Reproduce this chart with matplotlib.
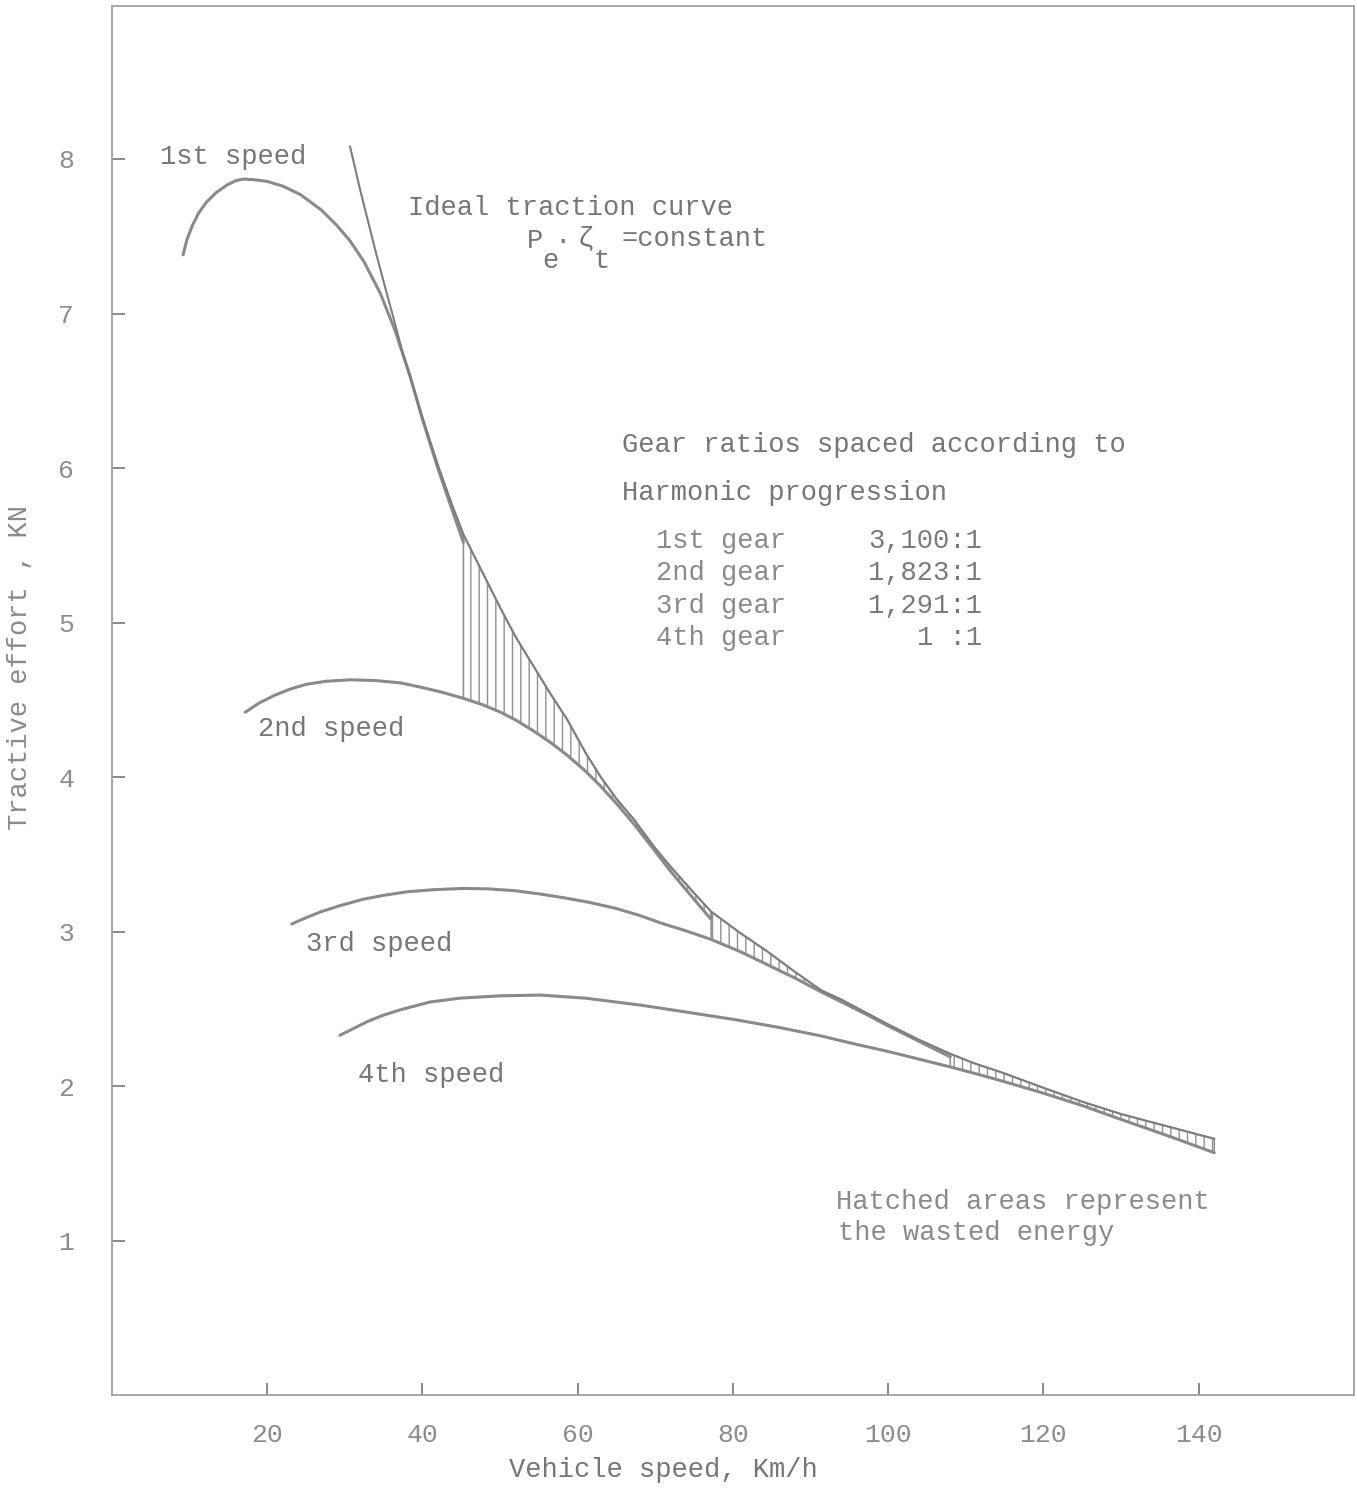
import matplotlib
matplotlib.use("Agg")
import matplotlib.pyplot as plt

# ideal traction curve (Pe * eta_t = constant)
ideal_v = [30.7, 32.0, 33.0, 34.0, 35.0, 36.3, 37.4, 38.5, 40.0, 42.0, 43.7,
           45.3, 47.5, 50.1, 52.0, 54.3, 56.5, 58.7, 61.0, 63.0, 65.0, 67.2,
           70.0, 72.0, 75.0, 77.2, 81.0, 84.5, 88.0, 91.4, 94.0, 97.0, 100.0,
           104.0, 108.0, 111.0, 114.6, 120.0, 125.0, 130.0, 136.0, 142.0]
ideal_f = [8.08, 7.80, 7.60, 7.40, 7.21, 6.97, 6.76, 6.58, 6.33, 6.02, 5.78,
           5.57, 5.35, 5.09, 4.91, 4.72, 4.54, 4.37, 4.16, 4.00, 3.86, 3.73,
           3.54, 3.42, 3.25, 3.13, 2.99, 2.87, 2.74, 2.62, 2.56, 2.48, 2.40,
           2.30, 2.21, 2.15, 2.09, 1.99, 1.90, 1.82, 1.74, 1.66]

gear1_v = [9.2, 9.7, 10.4, 11.2, 12.2, 13.4, 14.8, 16.0, 17.0, 18.5, 20.0,
           22.0, 24.3, 27.0, 29.0, 30.7, 32.5, 34.6, 36.5, 38.4, 40.0, 42.0,
           43.7, 45.3]
gear1_f = [7.38, 7.48, 7.57, 7.65, 7.72, 7.78, 7.83, 7.86, 7.87, 7.865, 7.855,
           7.825, 7.77, 7.67, 7.57, 7.47, 7.335, 7.13, 6.89, 6.60, 6.32, 6.00,
           5.75, 5.52]

gear2_v = [17.2, 19.0, 21.0, 23.0, 25.0, 27.5, 30.7, 34.0, 37.2, 40.0, 42.5,
           45.3, 47.7, 50.1, 52.2, 54.3, 56.5, 58.7, 61.0, 63.0, 65.0, 67.2,
           70.0, 72.0, 75.0, 77.2]
gear2_f = [4.42, 4.48, 4.53, 4.57, 4.60, 4.62, 4.63, 4.625, 4.61, 4.58, 4.55,
           4.51, 4.47, 4.42, 4.365, 4.30, 4.225, 4.14, 4.04, 3.94, 3.83, 3.70,
           3.52, 3.39, 3.21, 3.08]

gear3_v = [23.2, 25.0, 27.0, 29.5, 32.4, 35.0, 38.0, 41.5, 45.3, 48.5, 52.0,
           55.0, 58.2, 61.5, 65.0, 68.0, 71.1, 74.0, 77.2, 81.0, 84.5, 88.0,
           91.4, 94.0, 97.0, 100.0, 104.0, 108.0]
gear3_f = [3.05, 3.09, 3.13, 3.17, 3.21, 3.235, 3.258, 3.272, 3.28, 3.277,
           3.265, 3.245, 3.22, 3.19, 3.15, 3.105, 3.05, 3.005, 2.95, 2.87,
           2.785, 2.70, 2.61, 2.545, 2.47, 2.39, 2.29, 2.19]

gear4_v = [29.4, 31.0, 33.0, 35.0, 37.2, 41.0, 44.9, 50.0, 55.2, 61.0, 68.1,
           74.0, 80.4, 86.0, 91.4, 96.0, 100.0, 104.0, 108.0, 111.0, 114.6,
           120.0, 125.0, 130.0, 136.0, 142.0]
gear4_f = [2.33, 2.37, 2.42, 2.46, 2.495, 2.545, 2.57, 2.585, 2.59, 2.57,
           2.525, 2.48, 2.43, 2.38, 2.325, 2.27, 2.225, 2.175, 2.125, 2.085,
           2.035, 1.955, 1.875, 1.785, 1.68, 1.57]

# hatched (wasted energy) speed ranges, one per gear
hatch_ranges = [(38.4, 45.3), (45.3, 77.2), (77.2, 108.0), (108.0, 142.0)]

gear_names = ["1st gear", "2nd gear", "3rd gear", "4th gear"]
gear_ratios = ["3,100:1", "1,823:1", "1,291:1", "1 :1"]

x_ticks = [20, 40, 60, 80, 100, 120, 140]
y_ticks = [1, 2, 3, 4, 5, 6, 7, 8]

MONO = ["Liberation Mono", "DejaVu Sans Mono"]
LINE = "#8a8a8a"
TEXT = "#767676"


def hatch_poly(ax, gv, gf, lo, hi):
    """Polygon between a gear curve and the ideal curve, hatched."""
    xs = [v for v in gv if lo <= v <= hi]
    ys = [f for v, f in zip(gv, gf) if lo <= v <= hi]
    top = [(v, f) for v, f in zip(ideal_v, ideal_f) if lo <= v <= hi]
    xs += [p[0] for p in reversed(top)]
    ys += [p[1] for p in reversed(top)]
    ax.fill(xs, ys, facecolor="none", edgecolor="#909090", hatch="||",
            linewidth=1.2)


def main():
    plt.rcParams["hatch.linewidth"] = 1.0
    plt.rcParams["font.family"] = MONO
    fig = plt.figure(figsize=(13.57, 14.89), dpi=100)
    ax = fig.add_axes([0.0823, 0.0629, 0.9155, 0.9331])

    gears = [(gear1_v, gear1_f), (gear2_v, gear2_f),
             (gear3_v, gear3_f), (gear4_v, gear4_f)]
    for (gv, gf), (lo, hi) in zip(gears, hatch_ranges):
        hatch_poly(ax, gv, gf, lo, hi)
    for gv, gf in gears:
        ax.plot(gv, gf, color=LINE, lw=2.2, solid_capstyle="round",
                solid_joinstyle="round")
    ax.plot(ideal_v, ideal_f, color="#7e7e7e", lw=1.5,
            solid_joinstyle="round")

    ax.set_xlim(0, 160)
    ax.set_ylim(0, 8.99)
    ax.set_xticks(x_ticks)
    ax.set_yticks(y_ticks)
    ax.tick_params(direction="in", length=9, width=1.3, color="#808080",
                   labelcolor="#8c8c8c", labelsize=19)
    ax.tick_params(axis="x", pad=20)
    ax.tick_params(axis="y", pad=27)
    for s in ax.spines.values():
        s.set_color("#9a9a9a")
        s.set_linewidth(1.2)

    fs = 19.5
    ax.text(6.2, 8.01, "1st speed", fontsize=fs, color=TEXT, va="center")
    ax.text(38.2, 7.68, "Ideal traction curve", fontsize=fs, color=TEXT,
            va="center")
    ax.text(53.5, 7.47, "P", fontsize=fs, color=TEXT, va="center")
    ax.text(55.5, 7.34, "e", fontsize=fs, color=TEXT, va="center")
    ax.text(57.0, 7.46, "·", fontsize=fs, color=TEXT, va="center")
    ax.text(60.0, 7.48, "ζ", fontsize=fs, color=TEXT, va="center")
    ax.text(62.0, 7.34, "t", fontsize=fs, color=TEXT, va="center")
    ax.text(65.7, 7.48, "=constant", fontsize=fs, color=TEXT, va="center")

    ax.text(65.7, 6.15, "Gear ratios spaced according to", fontsize=fs,
            color=TEXT, va="center")
    ax.text(65.7, 5.84, "Harmonic progression", fontsize=fs, color=TEXT,
            va="center")
    for i, (name, ratio) in enumerate(zip(gear_names, gear_ratios)):
        y = 5.53 - i * 0.21
        ax.text(70.1, y, name, fontsize=fs, color="#8a8a8a", va="center")
        ax.text(112.1, y, ratio, fontsize=fs, color="#7a7a7a", va="center",
                ha="right")

    ax.text(18.9, 4.31, "2nd speed", fontsize=fs, color=TEXT, va="center")
    ax.text(25.0, 2.92, "3rd speed", fontsize=fs, color=TEXT, va="center")
    ax.text(31.7, 2.07, "4th speed", fontsize=fs, color=TEXT, va="center")
    ax.text(93.3, 1.25, "Hatched areas represent", fontsize=fs,
            color="#8a8a8a", va="center")
    ax.text(93.5, 1.05, "the wasted energy", fontsize=fs, color="#8a8a8a",
            va="center")

    fig.text(663 / 1357, 1 - 1470 / 1489, "Vehicle speed, Km/h", fontsize=fs,
             color=TEXT, ha="center", va="center")
    fig.text(20 / 1357, 1 - 667 / 1489, "Tractive effort , KN", fontsize=fs,
             color="#8a8a8a", ha="center", va="center", rotation=90)

    fig.savefig("out.png", dpi=100)


if __name__ == "__main__":
    main()
